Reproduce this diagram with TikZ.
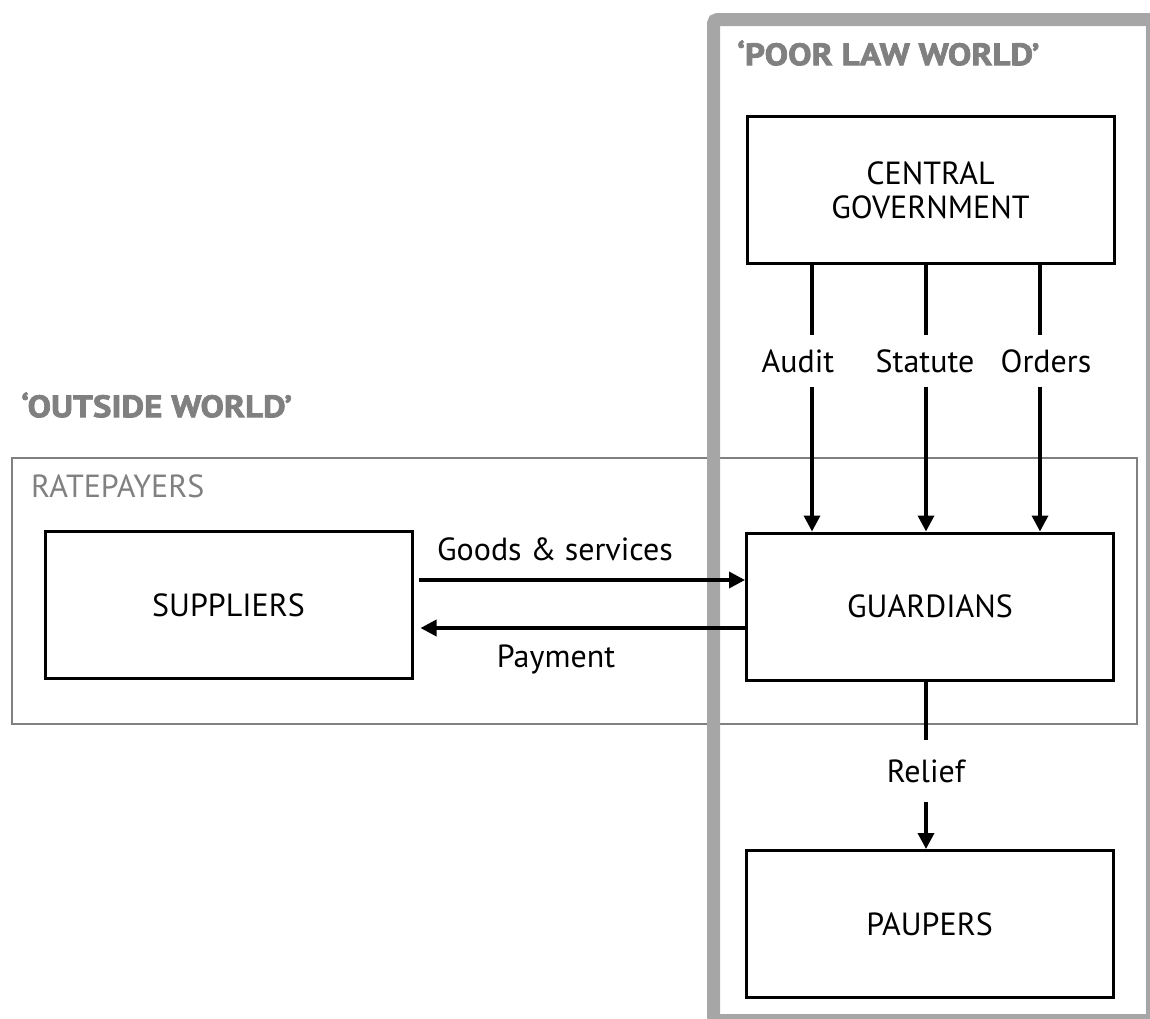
\documentclass[tikz,border=0pt]{standalone}
\usepackage{fontspec}
\setmainfont{PT Sans}
\newfontfamily\heavyfont{PT Sans}[BoldFeatures={FakeBold=2.4,FakeStretch=1.13}]
\usetikzlibrary{arrows.meta}
\definecolor{framegray}{HTML}{A6A6A6}
\definecolor{textgray}{HTML}{808080}
\tikzset{
  box/.style={draw=black, line width=3pt, minimum width=367pt, minimum height=147pt, inner sep=0pt, font=\fontsize{32}{37}\selectfont},
  lab/.style={inner sep=0pt, font=\fontsize{32}{37}\selectfont, align=center},
  title/.style={inner sep=0pt, anchor=west, text=textgray, font=\heavyfont\bfseries\fontsize{31}{36}\selectfont},
  conn/.style={line width=3.5pt, draw=black},
  arr/.style={conn, -{Triangle[width=16pt,length=16pt]}}
}
\begin{document}
\begin{tikzpicture}[x=1pt,y=-1pt]
\useasboundingbox (0,0) rectangle (1150,1018);
\clip (0,0) rectangle (1150,1018);
% ratepayers region
\draw[draw=textgray, line width=2.2pt] (12,458) rectangle (1137,724);
\node[inner sep=0pt, anchor=west, text=textgray, font=\fontsize{32}{37}\selectfont] (rp) at (31,486) {RATEPAYERS};
% poor law world frame
\draw[draw=framegray, line width=13pt, rounded corners=4pt] (713.5,19.5) rectangle (1152.5,1020.5);
\node[title] (plw) at (737,53) {‘POOR LAW WORLD’};
\node[title] (ow) at (21,405) {‘OUTSIDE WORLD’};
% boxes
\node[box, align=center] (cg) at (930.5,190) {CENTRAL\\[-3pt]GOVERNMENT};
\node[box] (gu) at (930,606.5) {GUARDIANS};
\node[box] (pa) at (929.5,924) {PAUPERS};
\node[box] (su) at (228.5,605) {SUPPLIERS};
% labels
\node[lab, minimum height=51pt] (au) at (798,361) {Audit};
\node[lab, minimum height=51pt] (st) at (925,361) {Statute};
\node[lab, minimum height=51pt] (or) at (1046,361) {Orders};
\node[lab, minimum height=62pt] (re) at (926,771) {Relief};
\node[lab] (gs) at (555,549) {Goods \& services};
\node[lab] (pm) at (556,659) {Payment};
% x positions of vertical connectors
\coordinate (xa) at (812,0);
\coordinate (xs) at (926,0);
\coordinate (xo) at (1040,0);
\coordinate (yg) at (0,580);
\coordinate (yp) at (0,628);
% connectors
\draw[conn] (cg.south -| xa) -- (au.north -| xa);
\draw[arr] (au.south -| xa) -- (gu.north -| xa);
\draw[conn] (cg.south -| xs) -- (st.north -| xs);
\draw[arr] (st.south -| xs) -- (gu.north -| xs);
\draw[conn] (cg.south -| xo) -- (or.north -| xo);
\draw[arr] (or.south -| xo) -- (gu.north -| xo);
\draw[conn] (gu.south -| xs) -- (re.north -| xs);
\draw[arr] (re.south -| xs) -- (pa.north -| xs);
\draw[arr] ([xshift=5pt]su.east |- yg) -- (gu.west |- yg);
\draw[arr] ([xshift=1.5pt]gu.west |- yp) -- ([xshift=7pt]su.east |- yp);
\end{tikzpicture}
\end{document}
